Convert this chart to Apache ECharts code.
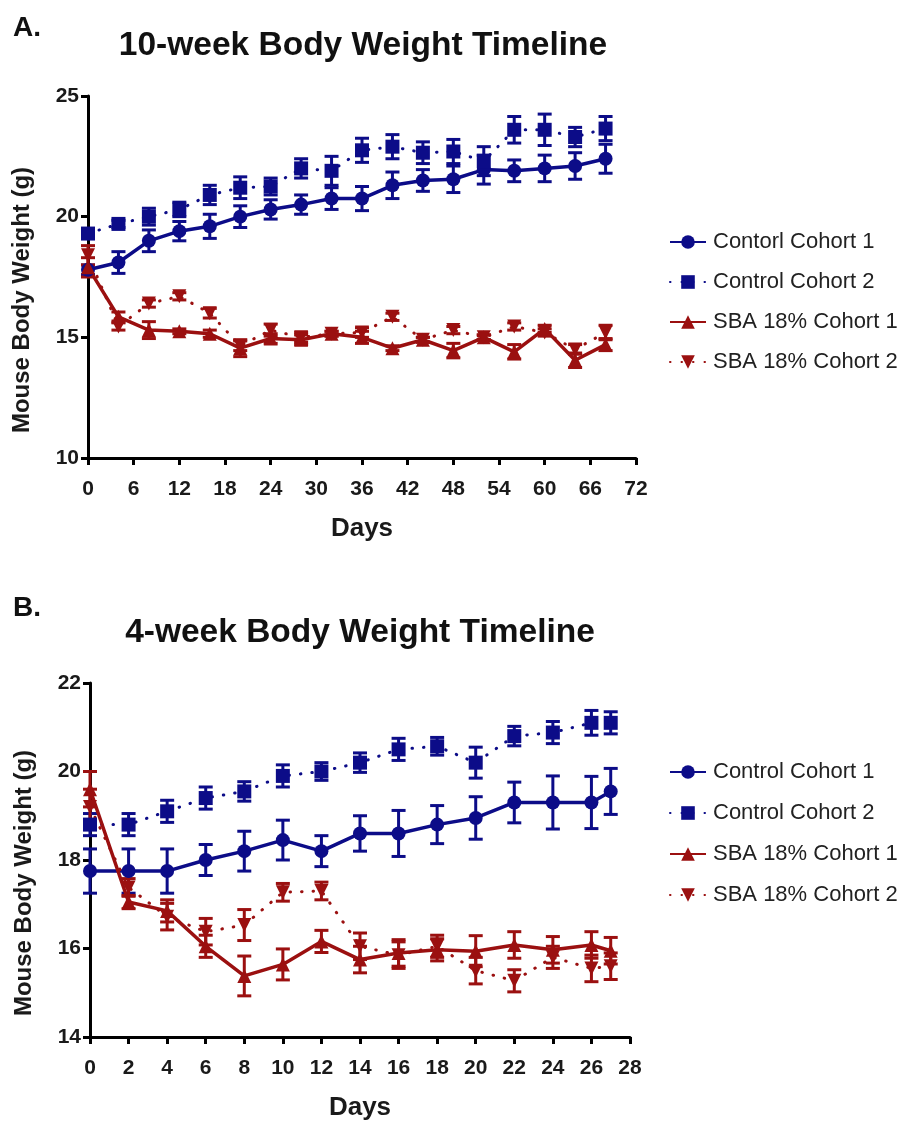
<!DOCTYPE html>
<html><head><meta charset="utf-8">
<script src="https://cdn.jsdelivr.net/npm/echarts@6/dist/echarts.min.js"></script>
<style>html,body{margin:0;padding:0;background:#fff}#c{width:916px;height:1122px}</style>
</head><body><div id="c"></div><script>
// ---------- Panel A data (10-week) ----------
const daysA = [0,4,8,12,16,20,24,28,32,36,40,44,48,52,56,60,64,68];
const ctrl1A    = [17.8,18.1,19.0,19.4,19.6,20.0,20.3,20.5,20.75,20.75,21.3,21.5,21.55,21.95,21.9,22.0,22.1,22.4];
const ctrl1AErr = [0.2,0.45,0.45,0.4,0.5,0.45,0.4,0.4,0.45,0.5,0.55,0.45,0.55,0.6,0.45,0.55,0.55,0.6];
const ctrl2A    = [19.3,19.7,20.0,20.3,20.9,21.2,21.25,22.0,21.9,22.75,22.9,22.65,22.7,22.3,23.6,23.6,23.3,23.65];
const ctrl2AErr = [0.2,0.15,0.35,0.3,0.4,0.45,0.35,0.4,0.6,0.5,0.5,0.45,0.5,0.6,0.55,0.65,0.4,0.5];
const sba1A     = [17.9,15.85,15.3,15.25,15.15,14.55,14.95,14.9,15.15,15.0,14.55,14.9,14.45,15.0,14.4,15.35,14.05,14.7];
const sba1AErr  = [0.4,0.2,0.35,0.1,0.15,0.35,0.2,0.2,0.1,0.25,0.1,0.1,0.3,0.1,0.3,0.15,0.3,0.25];
const sba2A     = [18.4,15.45,16.4,16.7,16.0,14.65,15.3,15.0,15.15,15.2,15.85,14.9,15.3,15.0,15.45,15.2,14.5,15.2];
const sba2AErr  = [0.4,0.15,0.15,0.15,0.2,0.2,0.25,0.2,0.1,0.2,0.15,0.1,0.15,0.1,0.15,0.15,0.2,0.3];
const namesA = ['Contorl Cohort 1','Control Cohort 2','SBA 18% Cohort 1','SBA 18% Cohort 2'];

// ---------- Panel B data (4-week) ----------
const daysB = [0,2,4,6,8,10,12,14,16,18,20,22,24,26,27];
const ctrl1B    = [17.75,17.75,17.75,18.0,18.2,18.45,18.2,18.6,18.6,18.8,18.95,19.3,19.3,19.3,19.55];
const ctrl1BErr = [0.5,0.5,0.5,0.35,0.45,0.45,0.35,0.4,0.52,0.43,0.48,0.46,0.6,0.59,0.52];
const ctrl2B    = [18.8,18.8,19.1,19.4,19.55,19.9,20.0,20.2,20.5,20.57,20.2,20.8,20.88,21.1,21.1];
const ctrl2BErr = [0.25,0.25,0.25,0.25,0.22,0.25,0.2,0.22,0.25,0.2,0.35,0.22,0.25,0.28,0.25];
const sba1B     = [19.6,17.05,16.85,16.05,15.38,15.64,16.16,15.75,15.9,15.97,15.94,16.08,15.97,16.08,15.95];
const sba1BErr  = [0.4,0.15,0.25,0.25,0.45,0.35,0.25,0.3,0.3,0.25,0.35,0.3,0.3,0.3,0.3];
const sba2B     = [19.2,17.38,16.72,16.38,16.53,17.27,17.3,16.05,15.85,16.05,15.5,15.27,15.8,15.55,15.6];
const sba2BErr  = [0.4,0.2,0.3,0.3,0.35,0.2,0.2,0.3,0.3,0.25,0.3,0.25,0.25,0.3,0.3];
const namesB = ['Control Cohort 1','Control Cohort 2','SBA 18% Cohort 1','SBA 18% Cohort 2'];

const BLUE = '#0c0c88';
const RED  = '#9b1010';
const FONT = 'Arial, "Liberation Sans", sans-serif';

function pairs(xs, ys){ return xs.map((x,i)=>[x,ys[i]]); }
function errData(xs, ys, es){ return xs.map((x,i)=>[x, ys[i]-es[i], ys[i]+es[i]]); }

function errSeries(xs, ys, es, color, gi){
  return {
    type:'custom', xAxisIndex:gi, yAxisIndex:gi, silent:true, z:3,
    data: errData(xs, ys, es),
    encode:{x:0, y:[1,2]},
    renderItem:function(params, api){
      const lo = api.coord([api.value(0), api.value(1)]);
      const hi = api.coord([api.value(0), api.value(2)]);
      const w = 7;
      const st = {stroke:color, lineWidth:3};
      return {type:'group', children:[
        {type:'line', shape:{x1:lo[0],y1:lo[1],x2:hi[0],y2:hi[1]}, style:st},
        {type:'line', shape:{x1:lo[0]-w,y1:lo[1],x2:lo[0]+w,y2:lo[1]}, style:st},
        {type:'line', shape:{x1:hi[0]-w,y1:hi[1],x2:hi[0]+w,y2:hi[1]}, style:st}
      ]};
    }
  };
}
function lineSeries(name, xs, ys, color, gi, dotted, symbol, rot){
  return {
    name:name, type:'line', xAxisIndex:gi, yAxisIndex:gi, z:4,
    data:pairs(xs, ys), symbol:symbol, symbolSize:14, symbolRotate:rot||0,
    showSymbol:true, animation:false,
    itemStyle:{color:color},
    lineStyle: dotted ? {color:color, width:3, type:[0.5,11], cap:'round'} : {color:color, width:3.5}
  };
}

function makeAxisX(gi, max, interval){
  return {
    type:'value', gridIndex:gi, min:0, max:max, interval:interval,
    name:'Days', nameLocation:'middle', nameGap:58,
    nameTextStyle:{fontFamily:FONT, fontWeight:'bold', fontSize:26, color:'#1a1a1a'},
    axisLine:{show:true, onZero:false, lineStyle:{color:'#000', width:3}},
    axisTick:{show:true, length:7, lineStyle:{color:'#000', width:3}},
    axisLabel:{fontFamily:FONT, fontWeight:'bold', fontSize:21, color:'#1a1a1a', margin:21},
    splitLine:{show:false}
  };
}
function makeAxisY(gi, min, max, interval){
  return {
    type:'value', gridIndex:gi, min:min, max:max, interval:interval,
    name:'Mouse Body Weight (g)', nameLocation:'middle', nameGap:54, nameRotate:90,
    nameTextStyle:{fontFamily:FONT, fontWeight:'bold', fontSize:24, color:'#1a1a1a', padding:[0,46,0,0]},
    axisLine:{show:true, onZero:false, lineStyle:{color:'#000', width:3}},
    axisTick:{show:true, length:7, lineStyle:{color:'#000', width:3}},
    axisLabel:{fontFamily:FONT, fontWeight:'bold', fontSize:21, color:'#1a1a1a', margin:9},
    splitLine:{show:false}
  };
}
function makeLegend(names, top, gap){
  return {
    orient:'vertical', left:664, top:top, itemGap:gap, itemWidth:36, itemHeight:17,
    data:names, selectedMode:false,
    textStyle:{fontFamily:FONT, fontSize:22, color:'#222', padding:[0,0,0,2]}
  };
}

const chart = echarts.init(document.getElementById('c'), null, {renderer:'canvas'});
chart.setOption({
  backgroundColor:'#fff',
  animation:false,
  grid:[
    {left:88, top:96, width:548, height:362},
    {left:90, top:683, width:540, height:359}
  ],
  xAxis:[ makeAxisX(0, 72, 6), makeAxisX(1, 28, 2) ],
  yAxis:[ makeAxisY(0, 10, 25, 5), makeAxisY(1, 14, 22, 2) ],
  legend:[ makeLegend(namesA, 226, 18), makeLegend(namesB, 756, 19) ],
  graphic:[
    {type:'text', left:13, top:14, style:{text:'A.', font:'bold 28px '+FONT, fill:'#111'}},
    {type:'text', x:363, y:46, style:{text:'10-week Body Weight Timeline', font:'bold 33.5px '+FONT, fill:'#111', textAlign:'center', textVerticalAlign:'middle'}},
    {type:'text', left:13, top:594, style:{text:'B.', font:'bold 28px '+FONT, fill:'#111'}},
    {type:'text', x:360, y:633, style:{text:'4-week Body Weight Timeline', font:'bold 33.5px '+FONT, fill:'#111', textAlign:'center', textVerticalAlign:'middle'}}
  ],
  series:[
    errSeries(daysA, ctrl1A, ctrl1AErr, BLUE, 0),
    errSeries(daysA, ctrl2A, ctrl2AErr, BLUE, 0),
    errSeries(daysA, sba1A, sba1AErr, RED, 0),
    errSeries(daysA, sba2A, sba2AErr, RED, 0),
    lineSeries(namesA[0], daysA, ctrl1A, BLUE, 0, false, 'circle'),
    lineSeries(namesA[1], daysA, ctrl2A, BLUE, 0, true, 'rect'),
    lineSeries(namesA[2], daysA, sba1A, RED, 0, false, 'triangle'),
    lineSeries(namesA[3], daysA, sba2A, RED, 0, true, 'triangle', 180),
    errSeries(daysB, ctrl1B, ctrl1BErr, BLUE, 1),
    errSeries(daysB, ctrl2B, ctrl2BErr, BLUE, 1),
    errSeries(daysB, sba1B, sba1BErr, RED, 1),
    errSeries(daysB, sba2B, sba2BErr, RED, 1),
    lineSeries(namesB[0], daysB, ctrl1B, BLUE, 1, false, 'circle'),
    lineSeries(namesB[1], daysB, ctrl2B, BLUE, 1, true, 'rect'),
    lineSeries(namesB[2], daysB, sba1B, RED, 1, false, 'triangle'),
    lineSeries(namesB[3], daysB, sba2B, RED, 1, true, 'triangle', 180)
  ]
});
</script></body></html>
